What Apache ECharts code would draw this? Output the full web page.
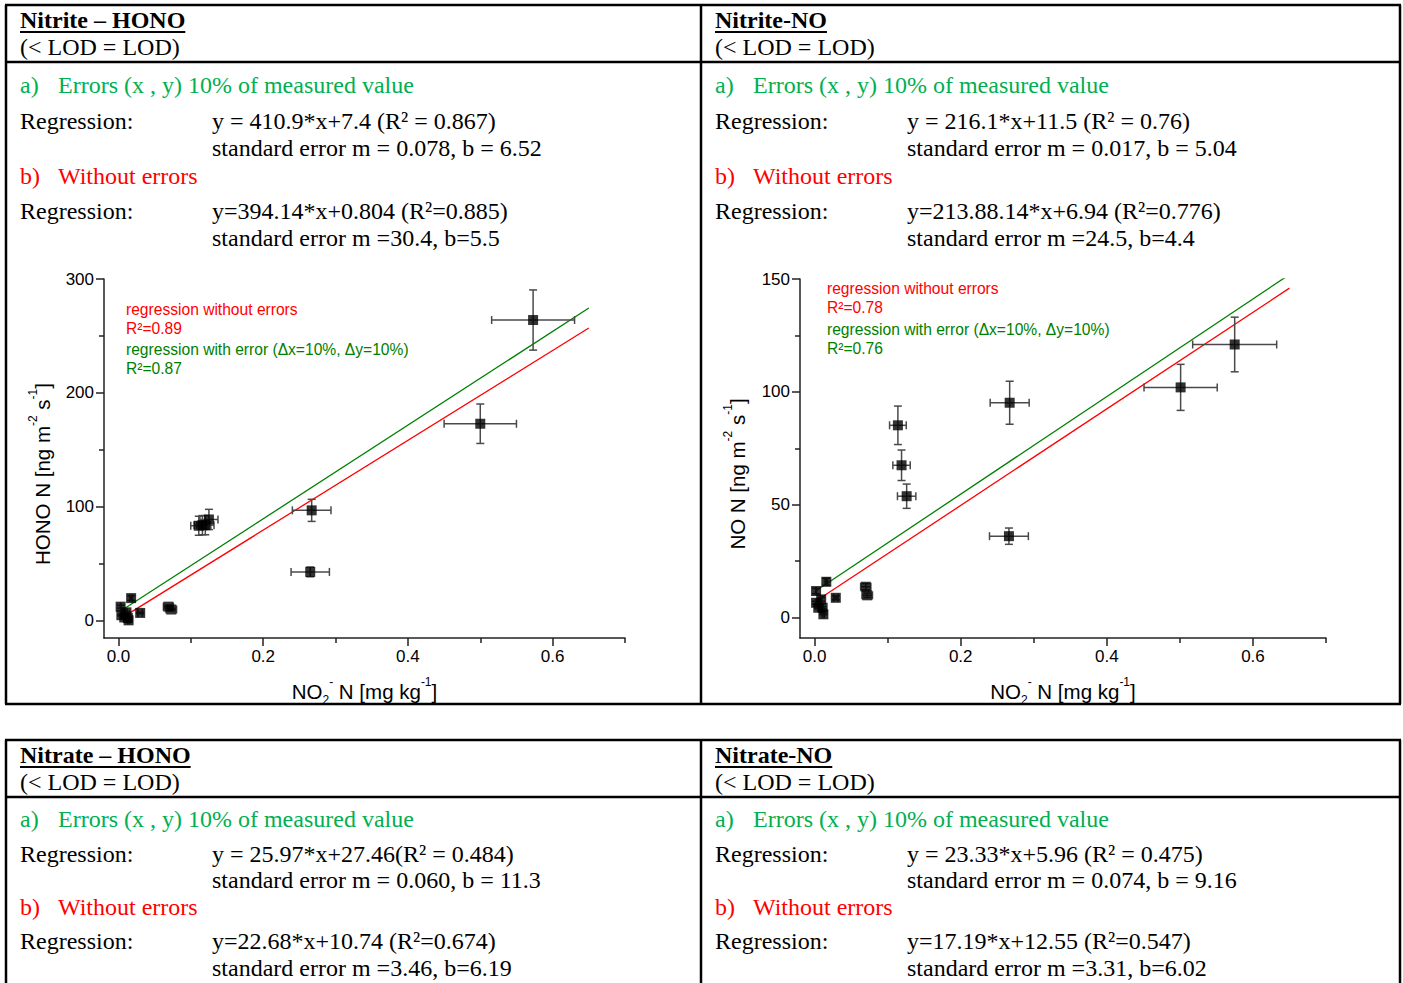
<!DOCTYPE html>
<html>
<head>
<meta charset="utf-8">
<title>Nitrite / Nitrate – HONO / NO regressions</title>
<script src="https://cdn.jsdelivr.net/npm/echarts@6/dist/echarts.min.js"></script>
<style>
  html, body { margin: 0; padding: 0; background: #fff; }
  #main { width: 1403px; height: 983px; }
</style>
</head>
<body>
<div id="main"></div>
<script>
// soil nitrite (NO2- N, mg/kg) vs HONO N flux (ng m-2 s-1)
const honoX = [0.003, 0.004, 0.008, 0.011, 0.013, 0.014, 0.0175, 0.030, 0.069, 0.073, 0.111, 0.116, 0.120, 0.125, 0.265, 0.267, 0.500, 0.573]
const honoY = [12.5, 5, 3, 7.5, 2.5, 0.5, 20, 7, 12.5, 10, 83.5, 84, 84, 89, 43, 97, 173, 264]

// soil nitrite vs NO N flux
const noX = [0.002, 0.002, 0.005, 0.009, 0.011, 0.012, 0.016, 0.029, 0.070, 0.072, 0.114, 0.119, 0.126, 0.266, 0.267, 0.501, 0.575]
const noY = [11.8, 6.6, 4.4, 8.1, 4.4, 1.5, 15.9, 8.8, 13.7, 9.9, 85.2, 67.5, 53.8, 36.1, 95.2, 102, 121]

// regression coefficients [slope, intercept] and the x span of the drawn line
const honoFitErr = [410.9, 7.4]
const honoFitNoErr = [394.14, 0.804]
const noFitErr = [216.1, 11.5]
const noFitNoErr = [213.88, 6.94]
const fitSpan = [0.003, 0.65]
const errFrac = 0.1 // errors (x, y) 10% of measured value

// tick labels
const xTicks = [0, 0.2, 0.4, 0.6]
const xMinor = [0.1, 0.3, 0.5, 0.7]
const honoTicks = [0, 100, 200, 300]
const honoMinor = [50, 150, 250]
const noTicks = [0, 50, 100, 150]
const noMinor = [25, 75, 125]

// table texts
const panels = [
  { x: 20, y0: 0, title: 'Nitrite – HONO', eqA: 'y = 410.9*x+7.4 (R² = 0.867)', seA: 'standard error m = 0.078, b = 6.52', eqB: 'y=394.14*x+0.804 (R²=0.885)', seB: 'standard error m =30.4, b=5.5' },
  { x: 715, y0: 0, title: 'Nitrite-NO', eqA: 'y = 216.1*x+11.5 (R² = 0.76)', seA: 'standard error m = 0.017, b = 5.04', eqB: 'y=213.88.14*x+6.94 (R²=0.776)', seB: 'standard error m =24.5, b=4.4' },
  { x: 20, y0: 735, title: 'Nitrate – HONO', eqA: 'y = 25.97*x+27.46(R² = 0.484)', seA: 'standard error m = 0.060, b = 11.3', eqB: 'y=22.68*x+10.74 (R²=0.674)', seB: 'standard error m =3.46, b=6.19' },
  { x: 715, y0: 735, title: 'Nitrate-NO', eqA: 'y = 23.33*x+5.96 (R² = 0.475)', seA: 'standard error m = 0.074, b = 9.16', eqB: 'y=17.19*x+12.55 (R²=0.547)', seB: 'standard error m =3.31, b=6.02' }
]
// text line centres inside a panel (upper panels; lower ones are cut by the page edge, so slightly tighter)
const rowsTop = [20, 47, 85, 121, 148, 176, 211, 238]
const rowsLow = [20, 47, 84, 119, 145, 172, 206, 233]

const SERIF = '"Liberation Serif", "Times New Roman", serif'
const SANS = '"Liberation Sans", Arial, sans-serif'
const TXT = 24
const GREEN_T = '#00b050'
const RED = '#ff0000'
const GREEN = '#008000'

const measure = document.createElement('canvas').getContext('2d')
function textWidth (str, font) {
  measure.font = font
  return measure.measureText(str).width
}

function txt (x, y, str, color, extra) {
  return {
    type: 'text', x, y, silent: true,
    style: Object.assign({ text: str, fill: color || '#000', font: TXT + 'px ' + SERIF, align: 'left', verticalAlign: 'middle' }, extra || {})
  }
}
function hline (x1, x2, y, w) {
  return { type: 'line', silent: true, shape: { x1, y1: y, x2, y2: y }, style: { stroke: '#000', lineWidth: w || 2.5 } }
}
function vline (x, y1, y2, w) {
  return { type: 'line', silent: true, shape: { x1: x, y1, x2: x, y2 }, style: { stroke: '#000', lineWidth: w || 2.5 } }
}

const graphics = []
// table frames
graphics.push(hline(5, 1401, 5), hline(5, 1401, 704), hline(5, 1401, 62), vline(6, 5, 704), vline(1400, 5, 704), vline(701, 5, 704))
graphics.push(hline(5, 1401, 740), hline(5, 1401, 797), vline(6, 740, 990), vline(1400, 740, 990), vline(701, 740, 990))

panels.forEach(p => {
  const o = p.y0
  const r = o > 0 ? rowsLow : rowsTop
  const boldFont = 'bold ' + TXT + 'px ' + SERIF
  graphics.push(txt(p.x, o + r[0], p.title, '#000', { font: boldFont }))
  graphics.push(hline(p.x, p.x + textWidth(p.title, boldFont), o + r[0] + 12, 2))
  graphics.push(txt(p.x, o + r[1], '(< LOD = LOD)'))
  graphics.push(txt(p.x, o + r[2], 'a)', GREEN_T), txt(p.x + 38, o + r[2], 'Errors (x , y) 10% of measured value', GREEN_T))
  graphics.push(txt(p.x, o + r[3], 'Regression:'), txt(p.x + 192, o + r[3], p.eqA))
  graphics.push(txt(p.x + 192, o + r[4], p.seA))
  graphics.push(txt(p.x, o + r[5], 'b)', RED), txt(p.x + 38, o + r[5], 'Without errors', RED))
  graphics.push(txt(p.x, o + r[6], 'Regression:'), txt(p.x + 192, o + r[6], p.eqB))
  graphics.push(txt(p.x + 192, o + r[7], p.seB))
})

// in-plot annotations
function notes (x, ys, r2a, r2b) {
  const f = '15.6px ' + SANS
  return [
    txt(x, ys[0], 'regression without errors', RED, { font: f }),
    txt(x, ys[1], 'R²=' + r2a, RED, { font: f }),
    txt(x, ys[2], 'regression with error (Δx=10%, Δy=10%)', GREEN, { font: f }),
    txt(x, ys[3], 'R²=' + r2b, GREEN, { font: f })
  ]
}
graphics.push(...notes(126, [309, 328, 349, 368], '0.89', '0.87'))
graphics.push(...notes(827, [288, 307, 329, 348], '0.78', '0.76'))

// y axis titles (rotated)
const richAxis = {
  t: { fontSize: 20.5, fontFamily: SANS, color: '#000', lineHeight: 30 },
  sup: { fontSize: 12, fontFamily: SANS, color: '#000', verticalAlign: 'top' },
  sub: { fontSize: 12, fontFamily: SANS, color: '#000', verticalAlign: 'bottom' }
}
function yTitle (x, y, name) {
  return {
    type: 'text', x, y, rotation: Math.PI / 2, silent: true,
    style: { text: '{t|' + name + ' N [ng m}{sup|-2}{t| s}{sup|-1}{t|]}', rich: richAxis, align: 'center', verticalAlign: 'middle' }
  }
}
graphics.push(yTitle(42, 474, 'HONO'), yTitle(737, 474, 'NO'))

const xName = '{t|NO}{sub|2}{sup|-}{t| N [mg kg}{sup|-1}{t|]}'

function xAxes (grid) {
  return [
    {
      type: 'value', gridIndex: grid, min: -0.02, max: 0.7, position: 'bottom',
      name: xName, nameLocation: 'middle', nameGap: 38, nameTextStyle: { rich: richAxis },
      axisLine: { onZero: false, lineStyle: { color: '#222', width: 1.5 } },
      axisTick: { customValues: xTicks, length: 8, inside: false, lineStyle: { color: '#222', width: 1.5 } },
      axisLabel: { customValues: xTicks, formatter: v => v.toFixed(1), fontSize: 17, fontFamily: SANS, color: '#000', margin: 10 },
      splitLine: { show: false }
    },
    {
      type: 'value', gridIndex: grid, min: -0.02, max: 0.7, position: 'bottom',
      axisLine: { show: false, onZero: false },
      axisTick: { customValues: xMinor, length: 5, lineStyle: { color: '#222', width: 1.5 } },
      axisLabel: { show: false, customValues: xMinor },
      splitLine: { show: false }
    }
  ]
}
function yAxes (grid, min, max, ticks, minor) {
  return [
    {
      type: 'value', gridIndex: grid, min, max, position: 'left',
      axisLine: { show: true, onZero: false, lineStyle: { color: '#222', width: 1.5 } },
      axisTick: { show: true, customValues: ticks, length: 8, lineStyle: { color: '#222', width: 1.5 } },
      axisLabel: { customValues: ticks, fontSize: 17, fontFamily: SANS, color: '#000', margin: 10 },
      splitLine: { show: false }
    },
    {
      type: 'value', gridIndex: grid, min, max, position: 'left',
      axisLine: { show: false, onZero: false },
      axisTick: { show: true, customValues: minor, length: 5, lineStyle: { color: '#222', width: 1.5 } },
      axisLabel: { show: false, customValues: minor },
      splitLine: { show: false }
    }
  ]
}

function errorBars (xs, ys, axis) {
  return {
    type: 'custom', xAxisIndex: axis, yAxisIndex: axis, silent: true, z: 2,
    data: xs.map((x, i) => [x, ys[i], x * errFrac, ys[i] * errFrac]),
    renderItem (params, api) {
      const x = api.value(0), y = api.value(1), dx = api.value(2), dy = api.value(3)
      const c = api.coord([x, y])
      const l = api.coord([x - dx, y])[0], r = api.coord([x + dx, y])[0]
      const t = api.coord([x, y + dy])[1], b = api.coord([x, y - dy])[1]
      const cap = 4
      const style = { stroke: '#4a4a4a', lineWidth: 1.5 }
      const seg = (x1, y1, x2, y2) => ({ type: 'line', shape: { x1, y1, x2, y2 }, style })
      return {
        type: 'group',
        children: [
          seg(l, c[1], r, c[1]), seg(l, c[1] - cap, l, c[1] + cap), seg(r, c[1] - cap, r, c[1] + cap),
          seg(c[0], t, c[0], b), seg(c[0] - cap, t, c[0] + cap, t), seg(c[0] - cap, b, c[0] + cap, b)
        ]
      }
    }
  }
}
function points (xs, ys, axis) {
  return {
    type: 'scatter', xAxisIndex: axis, yAxisIndex: axis, z: 3, silent: true,
    symbol: 'rect', symbolSize: 10, itemStyle: { color: '#000' },
    data: xs.map((x, i) => [x, ys[i]])
  }
}
function fitLine (fit, color, axis) {
  return {
    type: 'line', xAxisIndex: axis, yAxisIndex: axis, z: 1, silent: true, showSymbol: false, clip: true,
    lineStyle: { color, width: 1.3 },
    data: fitSpan.map(x => [x, fit[0] * x + fit[1]])
  }
}

const chart = echarts.init(document.getElementById('main'), null, { renderer: 'svg' })
chart.setOption({
  animation: false,
  backgroundColor: '#fff',
  grid: [
    { left: 104, top: 279, width: 521, height: 359 },
    { left: 800, top: 279, width: 526, height: 359 }
  ],
  xAxis: [...xAxes(0), ...xAxes(1)],
  yAxis: [...yAxes(0, -15, 300, honoTicks, honoMinor), ...yAxes(1, -9, 150, noTicks, noMinor)],
  series: [
    fitLine(honoFitNoErr, RED, 0),
    fitLine(honoFitErr, GREEN, 0),
    errorBars(honoX, honoY, 0),
    points(honoX, honoY, 0),
    fitLine(noFitNoErr, RED, 2),
    fitLine(noFitErr, GREEN, 2),
    errorBars(noX, noY, 2),
    points(noX, noY, 2)
  ],
  graphic: graphics
})
</script>
</body>
</html>
